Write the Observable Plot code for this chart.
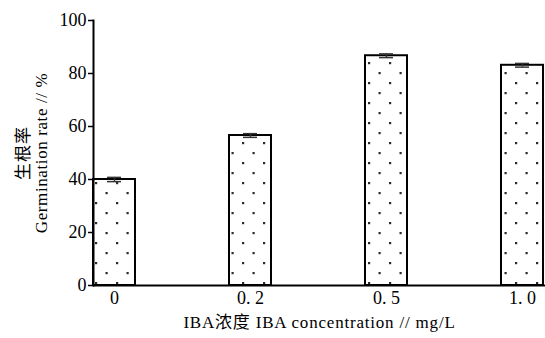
<!DOCTYPE html>
<html><head><meta charset="utf-8">
<script src="https://cdn.jsdelivr.net/npm/d3@7"></script>
<script src="https://cdn.jsdelivr.net/npm/@observablehq/plot@0.6"></script>
<style>
body{margin:0;background:#fff;}
svg text{font-family:"Liberation Serif","Noto Sans CJK SC",serif;}
</style></head><body><div id="chart"></div>
<script>
const categories = ["0", "0.2", "0.5", "1.0"];
const tickLabels = ["0", "0. 2", "0. 5", "1. 0"];
const rates = [40.0, 56.6, 86.7, 83.1];
const errors = [0.8, 0.7, 0.7, 0.7];
const yTicks = [0, 20, 40, 60, 80, 100];
const xTitle = "IBA浓度 IBA concentration // mg/L";
const yTitleCn = "生根率";
const yTitleEn = "Germination rate // %";

const data = categories.map((c, i) => ({c, v: rates[i], lo: rates[i] - errors[i], hi: rates[i] + errors[i]}));

const plot = Plot.plot({
  width: 545, height: 338,
  marginLeft: 93, marginRight: 0, marginTop: 20, marginBottom: 53,
  style: {fontSize: "18px", color: "#000", background: "#fff"},
  x: {domain: categories, paddingInner: 0.69, paddingOuter: 0, align: 0, axis: null},
  y: {domain: [0, 100], axis: null},
  marks: [
    Plot.barY(data, {x: "c", y: "v", fill: "url(#dots)", stroke: "#000", strokeWidth: 2}),
    Plot.ruleX(data, {x: "c", y1: "lo", y2: "hi", stroke: "#333", strokeWidth: 1.5}),
    Plot.tickY(data, {x: "c", y: "hi", stroke: "#333", strokeWidth: 1.5, insetLeft: 14, insetRight: 14}),
    Plot.tickY(data, {x: "c", y: "lo", stroke: "#333", strokeWidth: 1.5, insetLeft: 14, insetRight: 14}),
    Plot.ruleY([0], {stroke: "#000", strokeWidth: 2}),
    Plot.frame({anchor: "left", stroke: "#000", strokeWidth: 2}),
    Plot.axisY(yTicks, {tickSize: 5, tickPadding: 2, strokeWidth: 1.5, fontSize: 18, label: null}),
    Plot.axisX({tickSize: 0, tickPadding: 6, fontSize: 18, tickFormat: (d) => tickLabels[categories.indexOf(d)], label: null}),
    Plot.text([xTitle], {frameAnchor: "bottom", dy: 42, fontSize: 17, fill: "#000"}),
    Plot.text([yTitleCn], {frameAnchor: "left", textAnchor: "middle", dx: -70, rotate: -90, fontSize: 17, fill: "#000"}),
    Plot.text([yTitleEn], {frameAnchor: "left", textAnchor: "middle", dx: -52, rotate: -90, fontSize: 17, fill: "#000"})
  ]
});

const svg = d3.select(plot.tagName.toLowerCase() === "svg" ? plot : plot.querySelector("svg"));
svg.selectAll("text").filter(function() { return this.textContent === xTitle; }).style("letter-spacing", "0.8px");
svg.selectAll("text").filter(function() { return this.textContent === yTitleEn; }).style("letter-spacing", "0.6px");
svg.selectAll("text").filter(function() { return this.textContent === yTitleCn; }).style("letter-spacing", "1px");
const defs = svg.insert("defs", ":first-child");
const pat = defs.append("pattern").attr("id", "dots").attr("patternUnits", "userSpaceOnUse")
  .attr("width", 21).attr("height", 20).attr("x", 95).attr("y", 2);
pat.append("rect").attr("width", 21).attr("height", 20).attr("fill", "#fff");
pat.append("rect").attr("x", 0).attr("y", 0).attr("width", 2.2).attr("height", 2.2).attr("fill", "#2a2a2a");
pat.append("rect").attr("x", 10.5).attr("y", 10).attr("width", 2.2).attr("height", 2.2).attr("fill", "#2a2a2a");
document.getElementById("chart").appendChild(plot);
</script></body></html>
